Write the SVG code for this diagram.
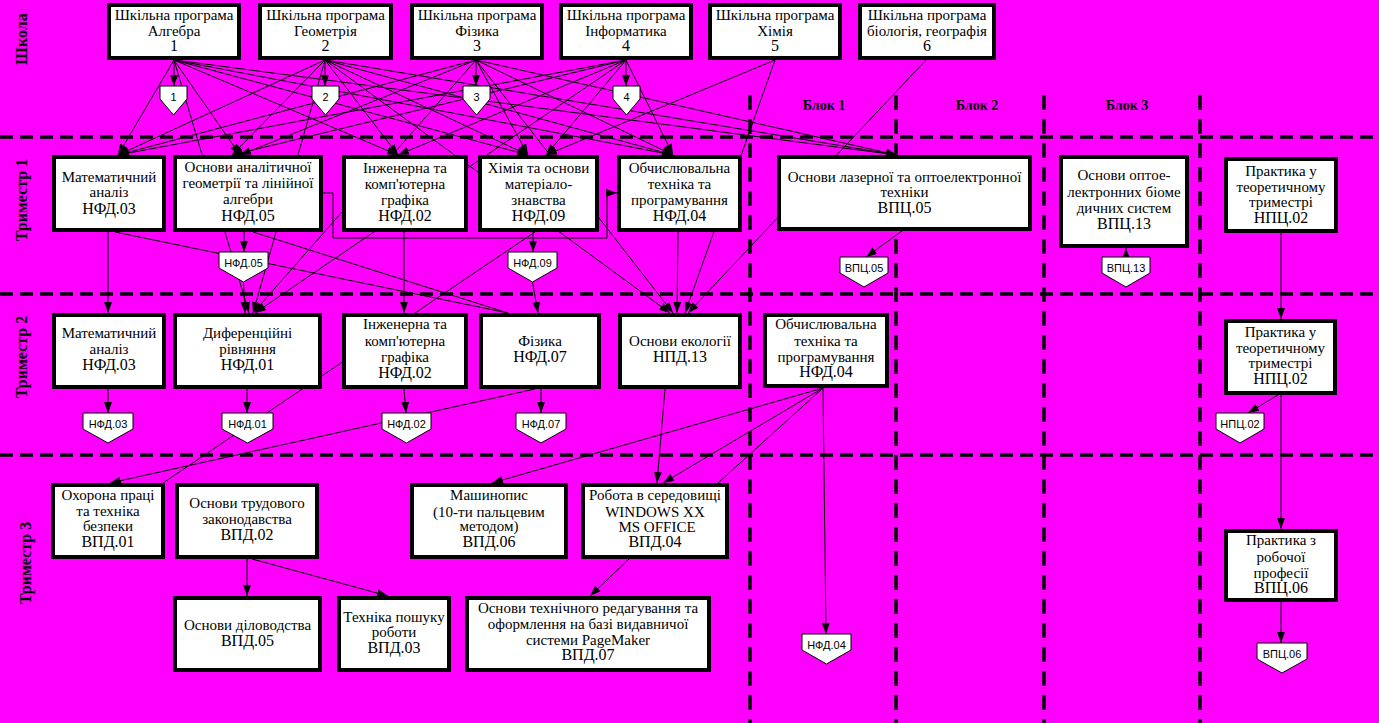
<svg xmlns="http://www.w3.org/2000/svg" width="1379" height="723" viewBox="0 0 1379 723">
<defs>
<marker id="ah" markerWidth="11" markerHeight="8" refX="11" refY="4" orient="auto" markerUnits="userSpaceOnUse"><path d="M0,0 L11,4 L0,8 z" fill="#000"/></marker>
<style>
.bx{fill:#fff;stroke:#000;stroke-width:4}
.mk{fill:#fff;stroke:#000;stroke-width:1}
.t{font-family:"Liberation Serif","Times New Roman",serif;font-size:15px;text-anchor:middle;fill:#000}
.c{font-size:16px}
.ml{font-family:"Liberation Sans",Arial,sans-serif;font-size:11px;text-anchor:middle;fill:#000}
.side{font-family:"Liberation Serif","Times New Roman",serif;font-weight:bold;font-size:16px;text-anchor:middle;fill:#000}
.blk{font-family:"Liberation Serif","Times New Roman",serif;font-weight:bold;font-size:14px;text-anchor:middle;fill:#000}
.dh{stroke:#000;stroke-width:3.5;stroke-dasharray:13 7;fill:none}
.dv{stroke:#000;stroke-width:3.5;stroke-dasharray:15 9;fill:none}
.ln{stroke:#000;stroke-width:1;fill:none}
.ar{marker-end:url(#ah)}
</style>
</defs>
<rect x="0" y="0" width="1379" height="723" fill="#ff00ff"/>
<g id="grid">
<line class="dh" x1="0" y1="137" x2="1379" y2="137"/>
<line class="dh" x1="0" y1="294" x2="1379" y2="294"/>
<line class="dh" x1="0" y1="455" x2="1379" y2="455"/>
<line class="dv" x1="750" y1="95" x2="750" y2="723"/>
<line class="dv" x1="896" y1="95" x2="896" y2="723"/>
<line class="dv" x1="1044" y1="95" x2="1044" y2="723"/>
<line class="dv" x1="1200" y1="95" x2="1200" y2="723"/>
</g>
<g id="labels">
<text class="side" transform="translate(27,39) rotate(-90)">Школа</text>
<text class="side" transform="translate(27,200) rotate(-90)">Триместр 1</text>
<text class="side" transform="translate(27,357) rotate(-90)">Триместр 2</text>
<text class="side" transform="translate(31,563) rotate(-90)">Триместр 3</text>
<text class="blk" x="824" y="110">Блок 1</text>
<text class="blk" x="977" y="110">Блок 2</text>
<text class="blk" x="1127" y="110">Блок 3</text>
</g>
<g id="connectors">
<line class="ln ar" x1="174" y1="60" x2="174" y2="86"/>
<line class="ln ar" x1="325" y1="60" x2="325" y2="86"/>
<line class="ln ar" x1="476" y1="60" x2="476" y2="86"/>
<line class="ln ar" x1="626" y1="60" x2="626" y2="86"/>
<line class="ln ar" x1="174" y1="60" x2="118" y2="155"/>
<line class="ln ar" x1="174" y1="60" x2="240" y2="155"/>
<line class="ln ar" x1="174" y1="60" x2="249" y2="313"/>
<line class="ln ar" x1="174" y1="60" x2="398" y2="155"/>
<line class="ln ar" x1="174" y1="60" x2="528" y2="155"/>
<line class="ln ar" x1="174" y1="60" x2="673" y2="155"/>
<line class="ln ar" x1="174" y1="60" x2="897" y2="155"/>
<line class="ln ar" x1="325" y1="60" x2="118" y2="155"/>
<line class="ln ar" x1="325" y1="60" x2="232" y2="155"/>
<line class="ln ar" x1="325" y1="60" x2="253" y2="313"/>
<line class="ln ar" x1="325" y1="60" x2="398" y2="155"/>
<line class="ln ar" x1="325" y1="60" x2="528" y2="155"/>
<line class="ln ar" x1="325" y1="60" x2="673" y2="155"/>
<line class="ln ar" x1="325" y1="60" x2="897" y2="155"/>
<line class="ln ar" x1="325" y1="60" x2="670" y2="313"/>
<line class="ln ar" x1="476" y1="60" x2="118" y2="155"/>
<line class="ln ar" x1="476" y1="60" x2="240" y2="155"/>
<line class="ln ar" x1="476" y1="60" x2="253" y2="313"/>
<line class="ln ar" x1="476" y1="60" x2="528" y2="155"/>
<line class="ln ar" x1="476" y1="60" x2="673" y2="155"/>
<line class="ln ar" x1="476" y1="60" x2="897" y2="155"/>
<line class="ln ar" x1="476" y1="60" x2="673" y2="313"/>
<line class="ln ar" x1="626" y1="60" x2="118" y2="155"/>
<line class="ln ar" x1="626" y1="60" x2="232" y2="155"/>
<line class="ln ar" x1="626" y1="60" x2="255" y2="313"/>
<line class="ln ar" x1="626" y1="60" x2="398" y2="155"/>
<line class="ln ar" x1="626" y1="60" x2="546" y2="155"/>
<line class="ln ar" x1="626" y1="60" x2="673" y2="155"/>
<line class="ln ar" x1="775" y1="60" x2="546" y2="155"/>
<line class="ln ar" x1="775" y1="60" x2="685" y2="313"/>
<line class="ln ar" x1="926" y1="60" x2="688" y2="313"/>
<line class="ln ar" x1="108" y1="232" x2="108" y2="313"/>
<line class="ln" x1="115" y1="232" x2="508" y2="313"/>
<line class="ln" x1="253" y1="232" x2="508" y2="313"/>
<line class="ln ar" x1="244" y1="232" x2="244" y2="252"/>
<line class="ln ar" x1="243.5" y1="282" x2="245" y2="313"/>
<line class="ln ar" x1="404" y1="232" x2="404" y2="313"/>
<line class="ln ar" x1="533" y1="232" x2="533" y2="252"/>
<line class="ln ar" x1="532.5" y1="282" x2="538" y2="313"/>
<line class="ln" x1="535" y1="232" x2="163" y2="483"/>
<line class="ln ar" x1="678" y1="232" x2="677" y2="313"/>
<polyline class="ln ar" points="323,193 333,193 333,238 607,238 607,193 617,193"/>
<line class="ln ar" x1="902" y1="231" x2="866" y2="257"/>
<line class="ln ar" x1="1126" y1="257" x2="1126" y2="248"/>
<line class="ln ar" x1="1281" y1="233" x2="1281" y2="319"/>
<line class="ln ar" x1="108" y1="389" x2="108" y2="413"/>
<line class="ln ar" x1="247" y1="389" x2="247" y2="413"/>
<line class="ln ar" x1="404" y1="389" x2="406" y2="413"/>
<line class="ln ar" x1="541" y1="389" x2="541" y2="413"/>
<line class="ln ar" x1="535" y1="389" x2="110" y2="483"/>
<line class="ln ar" x1="665" y1="389" x2="657" y2="483"/>
<line class="ln ar" x1="823" y1="388" x2="492" y2="483"/>
<line class="ln ar" x1="823" y1="388" x2="663" y2="483"/>
<line class="ln" x1="823" y1="388" x2="718" y2="483"/>
<line class="ln ar" x1="823" y1="388" x2="826" y2="634"/>
<line class="ln ar" x1="1278" y1="395" x2="1248" y2="413"/>
<line class="ln ar" x1="1281" y1="395" x2="1281" y2="529"/>
<line class="ln ar" x1="247" y1="559" x2="247" y2="596"/>
<line class="ln ar" x1="252" y1="559" x2="388" y2="596"/>
<line class="ln ar" x1="629" y1="559" x2="590" y2="596"/>
<line class="ln ar" x1="1281" y1="602" x2="1281" y2="643"/>
</g>
<g id="s1"><rect class="bx" x="109" y="5" width="130" height="53"/><text class="t"><tspan x="174" y="20">Шкільна програма</tspan><tspan x="174" y="35.5">Алгебра</tspan><tspan x="174" y="51" class="c">1</tspan></text></g>
<g id="s2"><rect class="bx" x="260" y="5" width="131" height="53"/><text class="t"><tspan x="325.5" y="20">Шкільна програма</tspan><tspan x="325.5" y="35.5">Геометрія</tspan><tspan x="325.5" y="51" class="c">2</tspan></text></g>
<g id="s3"><rect class="bx" x="412" y="5" width="130" height="53"/><text class="t"><tspan x="477" y="20">Шкільна програма</tspan><tspan x="477" y="35.5">Фізика</tspan><tspan x="477" y="51" class="c">3</tspan></text></g>
<g id="s4"><rect class="bx" x="561" y="5" width="130" height="53"/><text class="t"><tspan x="626" y="20">Шкільна програма</tspan><tspan x="626" y="35.5">Інформатика</tspan><tspan x="626" y="51" class="c">4</tspan></text></g>
<g id="s5"><rect class="bx" x="710" y="5" width="130" height="53"/><text class="t"><tspan x="775" y="20">Шкільна програма</tspan><tspan x="775" y="35.5">Хімія</tspan><tspan x="775" y="51" class="c">5</tspan></text></g>
<g id="s6"><rect class="bx" x="860" y="5" width="134" height="53"/><text class="t"><tspan x="927" y="20">Шкільна програма</tspan><tspan x="927" y="35.5">біологія, географія</tspan><tspan x="927" y="51" class="c">6</tspan></text></g>
<g id="t1a"><rect class="bx" x="54" y="157" width="110" height="73"/><text class="t"><tspan x="109" y="182">Математичний</tspan><tspan x="109" y="197">аналіз</tspan><tspan x="109" y="214" class="c">НФД.03</tspan></text></g>
<g id="t1b"><rect class="bx" x="175" y="157" width="146" height="73"/><text class="t"><tspan x="248" y="172">Основи аналітичної</tspan><tspan x="248" y="188">геометрії та лінійної</tspan><tspan x="248" y="204">алгебри</tspan><tspan x="248" y="221" class="c">НФД.05</tspan></text></g>
<g id="t1c"><rect class="bx" x="344" y="157" width="122" height="73"/><text class="t"><tspan x="405" y="173">Інженерна та</tspan><tspan x="405" y="189">комп'ютерна</tspan><tspan x="405" y="205">графіка</tspan><tspan x="405" y="221" class="c">НФД.02</tspan></text></g>
<g id="t1d"><rect class="bx" x="480" y="157" width="117" height="73"/><text class="t"><tspan x="538.5" y="173">Хімія та основи</tspan><tspan x="538.5" y="189">матеріало-</tspan><tspan x="538.5" y="205">знавства</tspan><tspan x="538.5" y="221" class="c">НФД.09</tspan></text></g>
<g id="t1e"><rect class="bx" x="619" y="157" width="121" height="73"/><text class="t"><tspan x="679.5" y="173">Обчислювальна</tspan><tspan x="679.5" y="189">техніка та</tspan><tspan x="679.5" y="205">програмування</tspan><tspan x="679.5" y="221" class="c">НФД.04</tspan></text></g>
<g id="t1f"><rect class="bx" x="779" y="157" width="251" height="72"/><text class="t"><tspan x="904.5" y="182">Основи лазерної та оптоелектронної</tspan><tspan x="904.5" y="197">техніки</tspan><tspan x="904.5" y="213" class="c">ВПЦ.05</tspan></text></g>
<g id="t1g"><rect class="bx" x="1061" y="157" width="126" height="89"/><text class="t"><tspan x="1124" y="180">Основи оптое-</tspan><tspan x="1124" y="197">лектронних біоме</tspan><tspan x="1124" y="213">дичних систем</tspan><tspan x="1124" y="229" class="c">ВПЦ.13</tspan></text></g>
<g id="t1h"><rect class="bx" x="1226" y="159" width="110" height="72"/><text class="t"><tspan x="1281" y="176">Практика у</tspan><tspan x="1281" y="192">теоретичному</tspan><tspan x="1281" y="207">триместрі</tspan><tspan x="1281" y="223" class="c">НПЦ.02</tspan></text></g>
<g id="t2a"><rect class="bx" x="54" y="315" width="110" height="72"/><text class="t"><tspan x="109" y="338">Математичний</tspan><tspan x="109" y="354">аналіз</tspan><tspan x="109" y="370" class="c">НФД.03</tspan></text></g>
<g id="t2b"><rect class="bx" x="175" y="315" width="145" height="72"/><text class="t"><tspan x="247.5" y="338">Диференційні</tspan><tspan x="247.5" y="354">рівняння</tspan><tspan x="247.5" y="370" class="c">НФД.01</tspan></text></g>
<g id="t2c"><rect class="bx" x="344" y="315" width="122" height="72"/><text class="t"><tspan x="405" y="329">Інженерна та</tspan><tspan x="405" y="346">комп'ютерна</tspan><tspan x="405" y="362">графіка</tspan><tspan x="405" y="378" class="c">НФД.02</tspan></text></g>
<g id="t2d"><rect class="bx" x="481" y="315" width="118" height="72"/><text class="t"><tspan x="540" y="346">Фізика</tspan><tspan x="540" y="362" class="c">НФД.07</tspan></text></g>
<g id="t2e"><rect class="bx" x="620" y="315" width="120" height="72"/><text class="t"><tspan x="680" y="346">Основи екології</tspan><tspan x="680" y="362" class="c">НПД.13</tspan></text></g>
<g id="t2f"><rect class="bx" x="765" y="315" width="122" height="71"/><text class="t"><tspan x="826" y="329">Обчислювальна</tspan><tspan x="826" y="346">техніка та</tspan><tspan x="826" y="362">програмування</tspan><tspan x="826" y="377" class="c">НФД.04</tspan></text></g>
<g id="t2h"><rect class="bx" x="1226" y="321" width="109" height="72"/><text class="t"><tspan x="1280.5" y="337">Практика у</tspan><tspan x="1280.5" y="353">теоретичному</tspan><tspan x="1280.5" y="368">триместрі</tspan><tspan x="1280.5" y="384" class="c">НПЦ.02</tspan></text></g>
<g id="t3a"><rect class="bx" x="53" y="485" width="110" height="72"/><text class="t"><tspan x="108" y="500">Охорона праці</tspan><tspan x="108" y="516">та техніка</tspan><tspan x="108" y="531">безпеки</tspan><tspan x="108" y="547" class="c">ВПД.01</tspan></text></g>
<g id="t3b"><rect class="bx" x="177" y="485" width="140" height="72"/><text class="t"><tspan x="247" y="508">Основи трудового</tspan><tspan x="247" y="524">законодавства</tspan><tspan x="247" y="540" class="c">ВПД.02</tspan></text></g>
<g id="t3c"><rect class="bx" x="412" y="485" width="154" height="72"/><text class="t"><tspan x="489" y="500">Машинопис</tspan><tspan x="489" y="517">(10-ти пальцевим</tspan><tspan x="489" y="531">методом)</tspan><tspan x="489" y="547" class="c">ВПД.06</tspan></text></g>
<g id="t3d"><rect class="bx" x="583" y="485" width="144" height="72"/><text class="t"><tspan x="655" y="500">Робота в середовищі</tspan><tspan x="655" y="517">WINDOWS XX</tspan><tspan x="657" y="532">MS OFFICE</tspan><tspan x="655" y="547" class="c">ВПД.04</tspan></text></g>
<g id="t3e"><rect class="bx" x="175" y="598" width="145" height="72"/><text class="t"><tspan x="247.5" y="630">Основи діловодства</tspan><tspan x="247.5" y="646" class="c">ВПД.05</tspan></text></g>
<g id="t3f"><rect class="bx" x="339" y="598" width="110" height="72"/><text class="t"><tspan x="394" y="622">Техніка пошуку</tspan><tspan x="394" y="637">роботи</tspan><tspan x="394" y="653" class="c">ВПД.03</tspan></text></g>
<g id="t3g"><rect class="bx" x="467" y="598" width="242" height="72"/><text class="t"><tspan x="588" y="613">Основи технічного редагування та</tspan><tspan x="588" y="629">оформлення на базі видавничої</tspan><tspan x="588" y="645">системи PageMaker</tspan><tspan x="588" y="660" class="c">ВПД.07</tspan></text></g>
<g id="t3h"><rect class="bx" x="1226" y="531" width="110" height="69"/><text class="t"><tspan x="1281" y="545">Практика з</tspan><tspan x="1281" y="562">робочої</tspan><tspan x="1281" y="578">професії</tspan><tspan x="1281" y="593" class="c">ВПЦ.06</tspan></text></g>
<g id="m1"><polygon class="mk" points="160,86 187,86 187,99 173.5,115 160,99"/><text class="ml" x="173.5" y="101">1</text></g>
<g id="m2"><polygon class="mk" points="312,86 339,86 339,99 325.5,115 312,99"/><text class="ml" x="325.5" y="101">2</text></g>
<g id="m3"><polygon class="mk" points="463,86 490,86 490,99 476.5,115 463,99"/><text class="ml" x="476.5" y="101">3</text></g>
<g id="m4"><polygon class="mk" points="613,86 640,86 640,99 626.5,115 613,99"/><text class="ml" x="626.5" y="101">4</text></g>
<g id="mNFD05"><polygon class="mk" points="219,252 268,252 268,268 243.5,282 219,268"/><text class="ml" x="243.5" y="266.5">НФД.05</text></g>
<g id="mNFD09"><polygon class="mk" points="508,252 557,252 557,268 532.5,282 508,268"/><text class="ml" x="532.5" y="266.5">НФД.09</text></g>
<g id="mVPC05"><polygon class="mk" points="840,257 888,257 888,273 864,287 840,273"/><text class="ml" x="864" y="271.5">ВПЦ.05</text></g>
<g id="mVPC13"><polygon class="mk" points="1102,257 1150,257 1150,273 1126,287 1102,273"/><text class="ml" x="1126" y="271.5">ВПЦ.13</text></g>
<g id="mNFD03"><polygon class="mk" points="83,413 133,413 133,429 108,443 83,429"/><text class="ml" x="108" y="427.5">НФД.03</text></g>
<g id="mNFD01"><polygon class="mk" points="222,413 273,413 273,429 247.5,443 222,429"/><text class="ml" x="247.5" y="427.5">НФД.01</text></g>
<g id="mNFD02"><polygon class="mk" points="382,413 431,413 431,429 406.5,443 382,429"/><text class="ml" x="406.5" y="427.5">НФД.02</text></g>
<g id="mNFD07"><polygon class="mk" points="516,413 566,413 566,429 541,443 516,429"/><text class="ml" x="541" y="427.5">НФД.07</text></g>
<g id="mNPC02"><polygon class="mk" points="1216,413 1264,413 1264,429 1240,443 1216,429"/><text class="ml" x="1240" y="427.5">НПЦ.02</text></g>
<g id="mNFD04"><polygon class="mk" points="802,634 851,634 851,650 826.5,664 802,650"/><text class="ml" x="826.5" y="648.5">НФД.04</text></g>
<g id="mVPC06"><polygon class="mk" points="1257,643 1307,643 1307,659 1282,673 1257,659"/><text class="ml" x="1282" y="657.5">ВПЦ.06</text></g>
</svg>
